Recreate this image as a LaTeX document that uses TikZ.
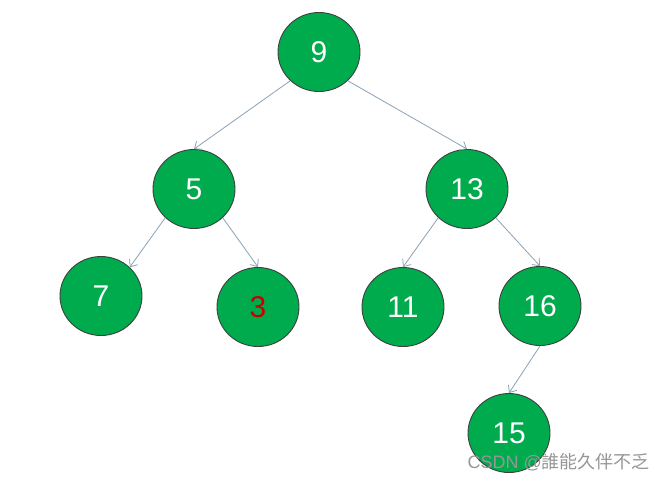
\documentclass[tikz,border=0pt]{standalone}
\usepackage{fontspec}
\setmainfont{Liberation Sans}
\newfontfamily\cjkfont{Noto Sans CJK SC}
\usetikzlibrary{shapes.geometric,arrows.meta}
\definecolor{nodegreen}{RGB}{0,171,78}
\definecolor{nodeborder}{RGB}{60,64,60}
\definecolor{edgecol}{RGB}{140,162,182}
\definecolor{wmgray}{RGB}{150,150,150}
\definecolor{darkred}{RGB}{200,0,0}
\begin{document}
\begin{tikzpicture}[x=1pt,y=-1pt,
  treenode/.style={ellipse,draw=nodeborder,line width=0.9pt,fill=nodegreen,
    minimum width=82pt,minimum height=79pt,inner sep=0pt,text=white,
    font=\fontsize{30}{30}\selectfont},
  edge/.style={draw=edgecol,line width=0.8pt,-{Straight Barb[length=6pt,width=10pt,line width=0.8pt]}}]
\useasboundingbox[fill=white] (0,0) rectangle (666,480);
\node[treenode] (n9)  at (319,52)  {9};
\node[treenode] (n5)  at (194,189) {5};
\node[treenode] (n13) at (467,189) {13};
\node[treenode] (n7)  at (101,296) {7};
\node[treenode,text=darkred] (n3)  at (258,307) {3};
\node[treenode] (n11) at (403,307) {11};
\node[treenode] (n16) at (540,306) {16};
\node[treenode] (n15) at (509,433) {15};
\draw[edge] (n9.225) -- (n5.90);
\draw[edge] (n9.-45) -- (n13.90);
\draw[edge] (n5.225) -- (n7.45);
\draw[edge] (n5.-45) -- (n3.90);
\draw[edge] (n13.225) -- (n11.90);
\draw[edge] (n13.-45) -- (n16.90);
\draw[edge] (n16.270) -- (n15.90);
\node[anchor=east,inner sep=0pt,text=wmgray,font=\fontsize{18}{18}\selectfont] (wm) at (650,462) {CSDN @{\cjkfont 誰能久伴不乏}};
\end{tikzpicture}
\end{document}
